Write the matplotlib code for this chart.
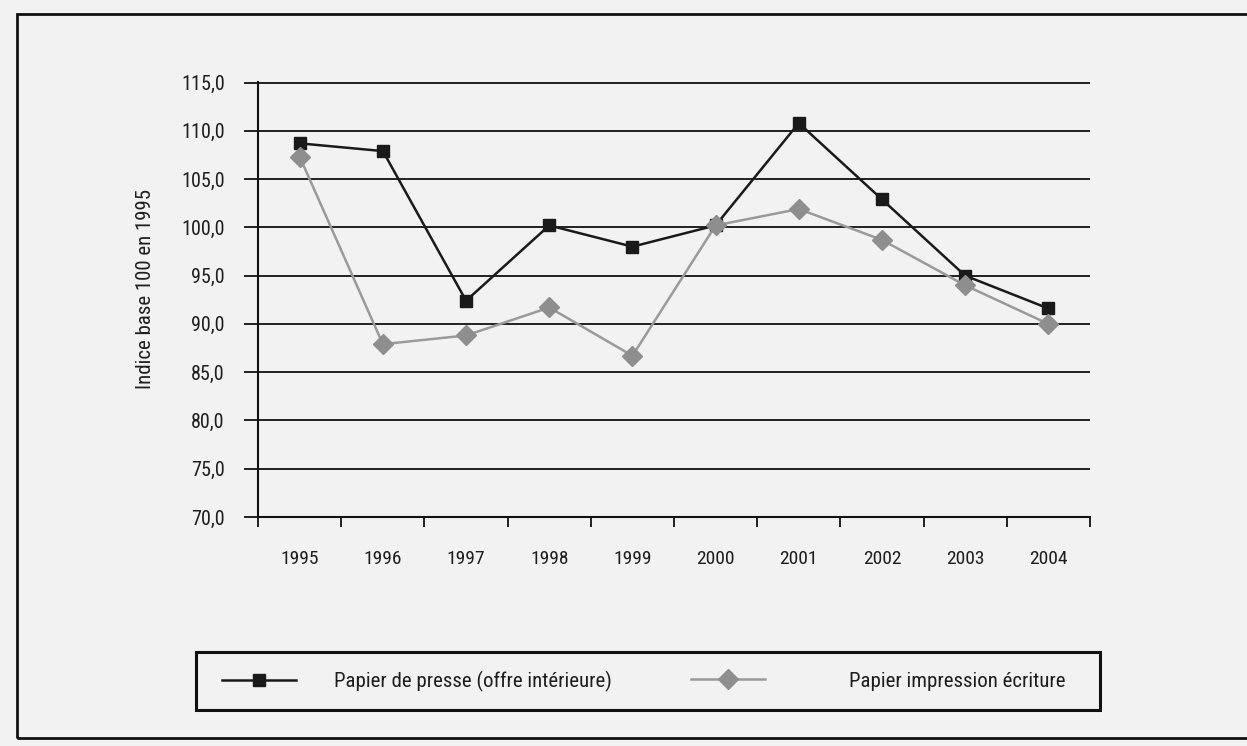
import numpy as np
import matplotlib
matplotlib.use("Agg")
import matplotlib.pyplot as plt
from matplotlib.patches import Rectangle

# Data (index, base 100 in 1995)
years = ['1995', '1996', '1997', '1998', '1999', '2000', '2001', '2002', '2003', '2004']
presse = [108.7, 107.9, 92.4, 100.2, 98.0, 100.2, 110.8, 102.9, 95.0, 91.6]
impression = [107.3, 87.9, 88.8, 91.7, 86.7, 100.2, 101.9, 98.7, 94.0, 90.0]
yticks = [70, 75, 80, 85, 90, 95, 100, 105, 110, 115]

label_presse = 'Papier de presse (offre intérieure)'
label_impr = 'Papier impression écriture'

plt.rcParams['font.family'] = ['Liberation Sans Narrow', 'DejaVu Sans Condensed',
                               'Roboto Condensed', 'Liberation Sans', 'DejaVu Sans']
bg = '#f2f2f2'
txt = '#1e1e1e'

fig = plt.figure(figsize=(12.47, 7.46), dpi=100)
fig.patch.set_facecolor(bg)
ax = fig.add_axes([0.207, 0.307, 0.667, 0.583])
ax.set_facecolor(bg)

x = np.arange(len(years))
l1, = ax.plot(x, presse, color='#1a1a1a', lw=1.8, marker='s', ms=9,
              mfc='#1a1a1a', mec='#1a1a1a', label=label_presse, zorder=3)
l2, = ax.plot(x, impression, color='#9a9a9a', lw=1.8, marker='D', ms=10,
              mfc='#8e8e8e', mec='#8e8e8e', label=label_impr, zorder=4)

ax.set_xlim(-0.5, len(years) - 0.5)
ax.set_ylim(70, 115.05)

# y axis: gridlines every 5 with outward ticks
ax.set_yticks(yticks)
ax.set_yticklabels([f'{v:.1f}'.replace('.', ',') for v in yticks])
ax.yaxis.grid(True, color='#111111', lw=1.3)
ax.tick_params(axis='y', direction='out', length=10, width=1.3,
               color='#111111', labelsize=14.5, labelcolor=txt, pad=14)

# x axis: ticks between categories, labels centred
ax.set_xticks(np.arange(-0.5, len(years), 1.0))
ax.set_xticklabels([])
ax.set_xticks(x, minor=True)
ax.set_xticklabels(years, minor=True)
ax.tick_params(axis='x', which='major', direction='out', length=7,
               width=1.3, color='#111111')
ax.tick_params(axis='x', which='minor', length=0, labelsize=14,
               labelcolor=txt, pad=24)

for s in ['top', 'right']:
    ax.spines[s].set_visible(False)
for s in ['left', 'bottom']:
    ax.spines[s].set_linewidth(1.5)
    ax.spines[s].set_color('#111111')

ax.set_ylabel('Indice base 100 en 1995', fontsize=15, color=txt)
ax.yaxis.set_label_coords(-0.124, 0.524)

# legend: one black box holding two entries
fig.patches.append(Rectangle((0.157, 0.0483), 0.725, 0.0777, transform=fig.transFigure,
                             fill=False, edgecolor='#111111', lw=2.2))
leg_kw = dict(loc='center left', fontsize=15, frameon=False, handlelength=3.56,
              borderpad=0, borderaxespad=0, labelcolor=txt)
leg1 = fig.legend(handles=[l1], bbox_to_anchor=(0.178, 0.0871),
                  handletextpad=1.83, **leg_kw)
leg2 = fig.legend(handles=[l2], bbox_to_anchor=(0.554, 0.0871),
                  handletextpad=4.04, **leg_kw)

# outer frame of the figure (right edge runs off the page)
fig.patches.append(Rectangle((0.0136, 0.0107), 1.2, 0.9706, transform=fig.transFigure,
                             fill=False, edgecolor='#111111', lw=2))

fig.savefig('out.png', dpi=100, facecolor=bg)
